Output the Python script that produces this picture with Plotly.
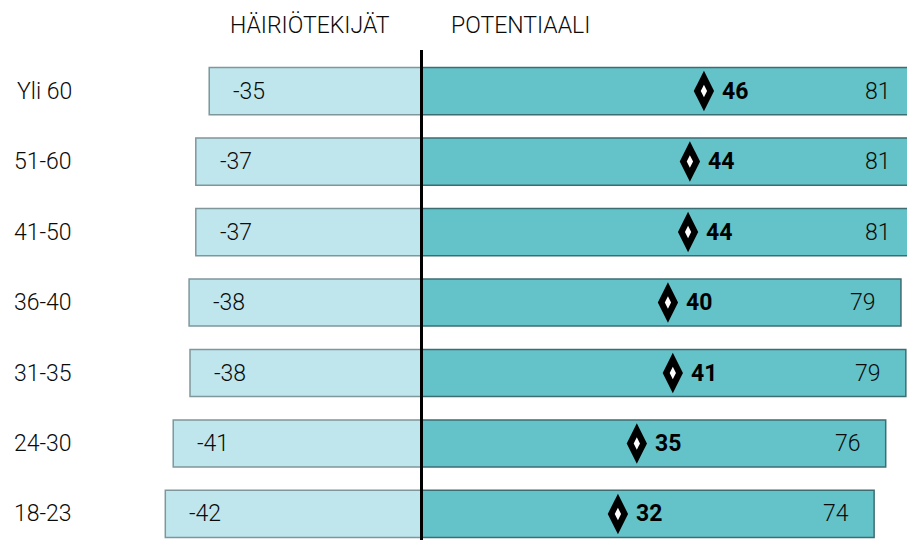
import plotly.graph_objects as go

categories = ["Yli 60", "51-60", "41-50", "36-40", "31-35", "24-30", "18-23"]
hairio = [-34.8, -37.0, -37.0, -38.1, -37.95, -40.7, -42.0]
potentiaali = [81.0, 81.0, 81.0, 78.6, 79.4, 76.1, 74.2]
netto = [46.3, 44.0, 43.7, 40.4, 41.2, 35.3, 32.2]
headers = ["HÄIRIÖTEKIJÄT", "POTENTIAALI"]

FONT = "Roboto"
TXT = "#0a0a0a"
FS = 23
W = 930  # figure wider than the window: right edge gets clipped like the original

fig = go.Figure()
fig.add_trace(go.Bar(
    y=categories, x=hairio, orientation="h", width=0.67,
    marker=dict(color="#bfe6ed", line=dict(color="#7f979b", width=1.5)),
    hoverinfo="skip", showlegend=False))
fig.add_trace(go.Bar(
    y=categories, x=potentiaali, orientation="h", width=0.67,
    marker=dict(color="#64c2c9", line=dict(color="#3c6d72", width=1.5)),
    hoverinfo="skip", showlegend=False))
fig.add_trace(go.Scatter(
    y=categories, x=netto, mode="markers",
    marker=dict(symbol="diamond-tall", size=29, color="black", line=dict(width=0)),
    hoverinfo="skip", showlegend=False, cliponaxis=False))
fig.add_trace(go.Scatter(
    y=categories, x=netto, mode="markers",
    marker=dict(symbol="diamond-tall", size=9, color="white", line=dict(width=0)),
    hoverinfo="skip", showlegend=False, cliponaxis=False))

light = dict(family=FONT, size=FS, color=TXT, weight=300)
ann = []
for c, h, p, n in zip(categories, hairio, potentiaali, netto):
    ann.append(dict(x=h, y=c, xref="x", yref="y", text=f"{round(h)}", showarrow=False,
                    xanchor="left", xshift=22, font=light))
    ann.append(dict(x=p, y=c, xref="x", yref="y", text=f"{round(p)}", showarrow=False,
                    xanchor="right", xshift=-23, font=light))
    ann.append(dict(x=n, y=c, xref="x", yref="y", text=f"<b>{round(n)}</b>", showarrow=False,
                    xanchor="left", xshift=16, font=dict(family=FONT, size=FS, color="black")))
    ann.append(dict(x=-57.0, y=c, xref="x", yref="y", text=c, showarrow=False,
                    xanchor="right", font=light))

ann.append(dict(x=-18.3, y=1 + 25 / 490, xref="x", yref="paper", text=headers[0], showarrow=False,
                xanchor="center", yanchor="middle", font=light))
ann.append(dict(x=16.3, y=1 + 25 / 490, xref="x", yref="paper", text=headers[1], showarrow=False,
                xanchor="center", yanchor="middle", font=light))

fig.update_layout(
    width=W, height=540,
    margin=dict(l=0, r=0, t=50, b=0),
    paper_bgcolor="white", plot_bgcolor="white",
    barmode="relative",
    xaxis=dict(range=[-421.5 / 6.1, (W - 421.5) / 6.1], visible=False, fixedrange=True),
    yaxis=dict(categoryorder="array", categoryarray=categories,
               range=[6.369, -0.582], autorange=False, visible=False),
    shapes=[dict(type="line", xref="x", yref="paper", x0=0, x1=0, y0=0, y1=1,
                 line=dict(color="black", width=3), layer="above")],
    annotations=ann,
)

fig.write_html("out.html", config={"displayModeBar": False},
               post_script="document.body.style.margin='0';document.body.style.overflow='hidden';")
